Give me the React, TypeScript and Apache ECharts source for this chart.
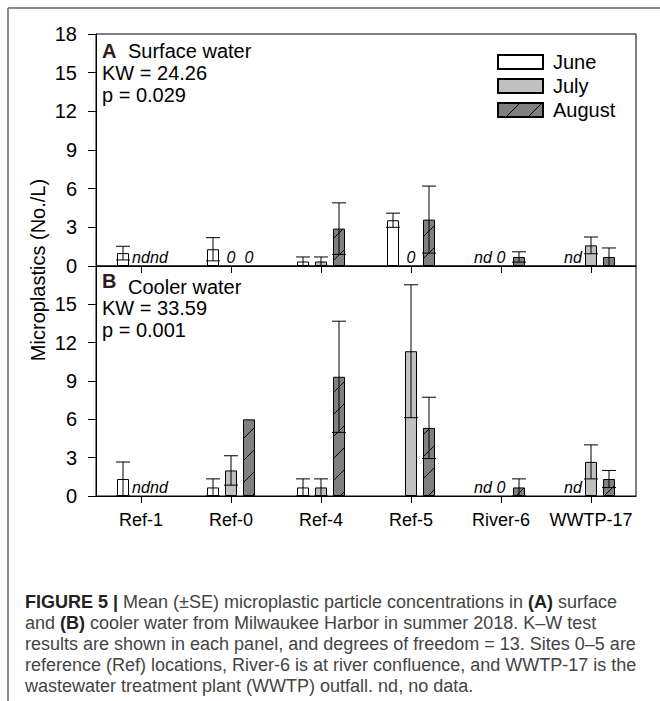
import React, { useEffect, useRef } from 'react';
import * as echarts from 'echarts';

const FONT = '"Liberation Sans", Arial, Helvetica, sans-serif';

const sites = ['Ref-1', 'Ref-0', 'Ref-4', 'Ref-5', 'River-6', 'WWTP-17'];
const months = ['June', 'July', 'August'];

// Panel A: surface water (mean, SE, note for missing bars)
const surfJuneMean = [1.0, 1.3, 0.35, 3.55, null, null];
const surfJuneSE = [0.53, 0.9, 0.35, 0.55, null, null];
const surfJuneNote = ['', '', '', '', 'nd', 'nd'];
const surfJulyMean = [null, null, 0.35, null, null, 1.6];
const surfJulySE = [null, null, 0.35, null, null, 0.65];
const surfJulyNote = ['nd', '0', '', '0', '0', ''];
const surfAugMean = [null, null, 2.9, 3.6, 0.7, 0.7];
const surfAugSE = [null, null, 2.0, 2.6, 0.4, 0.7];
const surfAugNote = ['nd', '0', '', '', '', ''];

// Panel B: cooler water
const coolJuneMean = [1.33, 0.67, 0.67, null, null, null];
const coolJuneSE = [1.33, 0.67, 0.67, null, null, null];
const coolJuneNote = ['', '', '', '', 'nd', 'nd'];
const coolJulyMean = [null, 2.0, 0.67, 11.33, null, 2.67];
const coolJulySE = [null, 1.15, 0.67, 5.2, null, 1.33];
const coolJulyNote = ['nd', '', '', '', '0', ''];
const coolAugMean = [null, 6.0, 9.33, 5.33, 0.67, 1.33];
const coolAugSE = [null, 0, 4.35, 2.4, 0.67, 0.67];
const coolAugNote = ['nd', '', '', '', '', ''];

const captionLines = [
  '{b|FIGURE 5 |} Mean (±SE) microplastic particle concentrations in {b|(A)} surface',
  'and {b|(B)} cooler water from Milwaukee Harbor in summer 2018. K–W test',
  'results are shown in each panel, and degrees of freedom = 13. Sites 0–5 are',
  'reference (Ref) locations, River-6 is at river confluence, and WWTP-17 is the',
  'wastewater treatment plant (WWTP) outfall. nd, no data.',
];

const hatchSvg =
  "<svg xmlns='http://www.w3.org/2000/svg' width='22' height='22'>" +
  "<rect width='22' height='22' fill='#808080'/>" +
  "<path d='M0 22L22 0M-11 11L11 -11M11 33L33 11' stroke='#000' stroke-width='1'/></svg>";
const hatch: any = {
  image: 'data:image/svg+xml;charset=utf-8,' + encodeURIComponent(hatchSvg),
  repeat: 'repeat',
  imageWidth: 22,
  imageHeight: 22,
};

const fills: any[] = ['#ffffff', '#c0c0c0', hatch];

function buildPanel(grid: number, means: (number | null)[][], ses: (number | null)[][], notes: string[][]) {
  const series: any[] = [];
  means.forEach((m, k) => {
    series.push({
      name: months[k],
      type: 'bar',
      xAxisIndex: grid,
      yAxisIndex: grid,
      barWidth: 12,
      barGap: '50%',
      data: m.map((v) => (v == null ? '-' : v)),
      itemStyle: { color: fills[k], borderColor: '#000', borderWidth: 1 },
      emphasis: { disabled: true },
      z: 2,
    });
  });
  const errData: number[][] = [];
  means.forEach((m, k) =>
    m.forEach((v, i) => {
      const s = ses[k][i];
      if (v != null && s) errData.push([i, k, v, s]);
    })
  );
  series.push({
    type: 'custom',
    xAxisIndex: grid,
    yAxisIndex: grid,
    data: errData,
    encode: { x: 0, y: 2 },
    z: 5,
    silent: true,
    renderItem: (params: any, api: any) => {
      const cat = api.value(0);
      const k = api.value(1);
      const mean = api.value(2);
      const se = api.value(3);
      const bw = api.size([1, 0])[0];
      const x = api.coord([cat, 0])[0] + (k - 1) * bw * 0.2;
      const yHi = api.coord([cat, mean + se])[1];
      const yLo = api.coord([cat, Math.max(0, mean - se)])[1];
      const st = { stroke: '#000', lineWidth: 1 };
      const h = 7;
      return {
        type: 'group',
        children: [
          { type: 'line', shape: { x1: x, y1: yHi, x2: x, y2: yLo }, style: st },
          { type: 'line', shape: { x1: x - h, y1: yHi, x2: x + h, y2: yHi }, style: st },
          { type: 'line', shape: { x1: x - h, y1: yLo, x2: x + h, y2: yLo }, style: st },
        ],
      };
    },
  });
  const noteData: number[][] = [];
  const noteText: string[] = [];
  notes.forEach((arr, k) =>
    arr.forEach((t, i) => {
      if (t) {
        noteData.push([i, k, 0]);
        noteText.push(t);
      }
    })
  );
  series.push({
    type: 'custom',
    xAxisIndex: grid,
    yAxisIndex: grid,
    data: noteData,
    encode: { x: 0, y: 2 },
    z: 6,
    silent: true,
    renderItem: (params: any, api: any) => {
      const cat = api.value(0);
      const k = api.value(1);
      const bw = api.size([1, 0])[0];
      const p = api.coord([cat, 0]);
      return {
        type: 'text',
        x: p[0] + (k - 1) * bw * 0.2,
        y: p[1] - 1,
        style: {
          text: noteText[params.dataIndex],
          fontSize: 16,
          fontStyle: 'italic',
          fontFamily: FONT,
          fill: '#000',
          align: 'center',
          verticalAlign: 'bottom',
        },
      };
    },
  });
  return series;
}

export default function App() {
  const ref = useRef<HTMLDivElement>(null);
  useEffect(() => {
    if (!ref.current) return;
    const chart = echarts.init(ref.current, null, { renderer: 'svg' });
    const axisLine = { show: true, lineStyle: { color: '#000', width: 1 } };
    const yAxisBase = {
      type: 'value',
      min: 0,
      max: 18,
      interval: 3,
      axisLine,
      axisTick: { show: true, inside: false, length: 8, lineStyle: { color: '#000' } },
      splitLine: { show: false },
      axisLabel: { color: '#000', fontSize: 20, fontFamily: FONT, margin: 19 },
    };
    const captionGraphics = captionLines.map((t, i) => ({
      type: 'text',
      x: 25,
      y: 602 + i * 21,
      style: {
        text: t,
        fontSize: 18,
        fontFamily: FONT,
        fill: '#444',
        verticalAlign: 'middle',
        rich: { b: { fontWeight: 'bold', fill: '#222', fontSize: 18, fontFamily: FONT } },
      },
    }));
    const annStyle = { fontSize: 20, fontFamily: FONT, fill: '#000', verticalAlign: 'middle' };
    const letterStyle = { fontSize: 20, fontFamily: FONT, fill: '#331a1a', fontWeight: 'bold', verticalAlign: 'middle' };
    chart.setOption({
      animation: false,
      backgroundColor: '#fff',
      grid: [
        { left: 96, top: 34, width: 540, height: 232, show: true, borderColor: '#000', borderWidth: 1, backgroundColor: 'transparent' },
        { left: 96, top: 266, width: 540, height: 230, show: true, borderColor: '#000', borderWidth: 1, backgroundColor: 'transparent' },
      ],
      xAxis: [0, 1].map((g) => ({
        type: 'category',
        gridIndex: g,
        data: sites,
        axisLine,
        axisTick: { show: true, alignWithLabel: true, interval: 0, inside: false, length: 7, lineStyle: { color: '#000' } },
        axisLabel: { show: g === 1, interval: 0, color: '#000', fontSize: 18, fontFamily: FONT, margin: 15 },
        splitLine: { show: false },
      })),
      yAxis: [
        { ...yAxisBase, gridIndex: 0 },
        { ...yAxisBase, gridIndex: 1, axisLabel: { ...yAxisBase.axisLabel, showMaxLabel: false } },
      ],
      legend: {
        data: months,
        orient: 'vertical',
        left: 497,
        top: 52,
        padding: 0,
        itemWidth: 45,
        itemHeight: 14,
        itemGap: 4,
        icon: 'rect',
        selectedMode: false,
        textStyle: { color: '#000', fontSize: 20, fontFamily: FONT, padding: [0, 0, 0, 5] },
      },
      series: [
        ...buildPanel(0, [surfJuneMean, surfJulyMean, surfAugMean], [surfJuneSE, surfJulySE, surfAugSE], [surfJuneNote, surfJulyNote, surfAugNote]),
        ...buildPanel(1, [coolJuneMean, coolJulyMean, coolAugMean], [coolJuneSE, coolJulySE, coolAugSE], [coolJuneNote, coolJulyNote, coolAugNote]),
      ],
      graphic: [
        { type: 'line', shape: { x1: 8, y1: 8, x2: 660, y2: 8 }, style: { stroke: '#666', lineWidth: 1.5 } },
        { type: 'line', shape: { x1: 8, y1: 8, x2: 8, y2: 701 }, style: { stroke: '#666', lineWidth: 1.5 } },
        { type: 'text', x: 102, y: 51, style: { ...letterStyle, text: 'A' } },
        { type: 'text', x: 128, y: 51, style: { ...annStyle, text: 'Surface water' } },
        { type: 'text', x: 102, y: 73, style: { ...annStyle, text: 'KW = 24.26' } },
        { type: 'text', x: 102, y: 95, style: { ...annStyle, text: 'p = 0.029' } },
        { type: 'text', x: 102, y: 281, style: { ...letterStyle, text: 'B' } },
        { type: 'text', x: 128, y: 287, style: { ...annStyle, text: 'Cooler water' } },
        { type: 'text', x: 102, y: 308, style: { ...annStyle, text: 'KW = 33.59' } },
        { type: 'text', x: 102, y: 330, style: { ...annStyle, text: 'p = 0.001' } },
        {
          type: 'text',
          x: 38,
          y: 270,
          rotation: Math.PI / 2,
          style: { text: 'Microplastics (No./L)', fontSize: 20, fontFamily: FONT, fill: '#000', align: 'center', verticalAlign: 'middle' },
        },
        ...captionGraphics,
      ],
    });
    return () => chart.dispose();
  }, []);
  return <div ref={ref} style={{ position: 'fixed', left: 0, top: 0, width: 660, height: 701 }} />;
}
